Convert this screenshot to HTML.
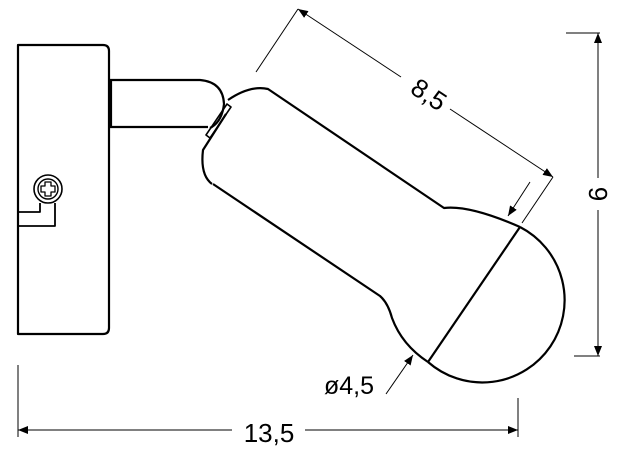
<!DOCTYPE html>
<html><head><style>
html,body{margin:0;padding:0;background:#fff;}
svg{display:block;}
text{font-family:"Liberation Sans",Arial,sans-serif;fill:#000;}
</style></head><body>
<svg width="624" height="457" viewBox="0 0 624 457" xmlns="http://www.w3.org/2000/svg">
<defs>
<marker id="a" viewBox="0 0 10 10" refX="10" refY="5" markerWidth="10" markerHeight="10" markerUnits="userSpaceOnUse" orient="auto-start-reverse">
<path d="M0,1 L10,5 L0,9 z" fill="#000"/>
</marker>
</defs>
<g fill="none" stroke="#000" stroke-width="2.2" stroke-linejoin="round">
<path d="M18,45 H103 Q109,45 109,51 V328 Q109,334 103,334 H18 Z"/>
<path d="M110,80 H200 Q223,82 224,104 Q222,122 210,128 M110,127 H208"/>
<line x1="111" y1="80" x2="111" y2="127"/>
<path d="M206,135 L227,104 L231,107 L210,138 Z" stroke-width="1.6"/>
<path d="M228,100 Q250,85 268,89 L444,208 Q470,205 520,227"/>
<path d="M212,184 Q200,175 203,150 L226,114"/>
<path d="M213,184 L380,296 Q388,303 392,318 Q402,345 428,362"/>
<path d="M520,227 A82.3,82.3 0 1 1 428,362"/>
<line x1="520" y1="227" x2="428" y2="362"/>
<circle cx="48" cy="189" r="14" stroke-width="1.6"/>
<circle cx="48" cy="189" r="10" stroke-width="1.4"/>
<path d="M45,182 h6 v4 h4 v6 h-4 v4 h-6 v-4 h-4 v-6 h4 z" stroke-width="1.3"/>
<path d="M40,203 V212 H18 M55,203 V226 H18" stroke-width="1.8"/>
</g>
<g stroke="#000" stroke-width="1" fill="none">
<line x1="256" y1="72" x2="298" y2="9"/>
<line x1="522" y1="223" x2="553" y2="177"/>
<line x1="298" y1="9" x2="401" y2="77" marker-start="url(#a)"/>
<line x1="450" y1="109" x2="553" y2="177" marker-end="url(#a)"/>
<line x1="530" y1="182" x2="508" y2="216" marker-end="url(#a)"/>
<line x1="566" y1="33" x2="600" y2="33"/>
<line x1="574" y1="356" x2="600" y2="356"/>
<line x1="598" y1="33" x2="598" y2="178" marker-start="url(#a)"/>
<line x1="598" y1="210" x2="598" y2="356" marker-end="url(#a)"/>
<line x1="18" y1="365" x2="18" y2="437"/>
<line x1="518" y1="398" x2="518" y2="437"/>
<line x1="18" y1="430" x2="232" y2="430" marker-start="url(#a)"/>
<line x1="305" y1="430" x2="518" y2="430" marker-end="url(#a)"/>
<line x1="386" y1="394" x2="413" y2="355" marker-end="url(#a)"/>
</g>
<text x="0" y="0" font-size="26" text-anchor="middle" transform="translate(424,102) rotate(33.5)">8,5</text>
<text x="0" y="0" font-size="26" text-anchor="middle" transform="translate(589,194) rotate(90)">9</text>
<text x="269" y="442" font-size="26" text-anchor="middle">13,5</text>
<text x="349" y="394" font-size="25" text-anchor="middle">ø4,5</text>
</svg>
</body></html>
